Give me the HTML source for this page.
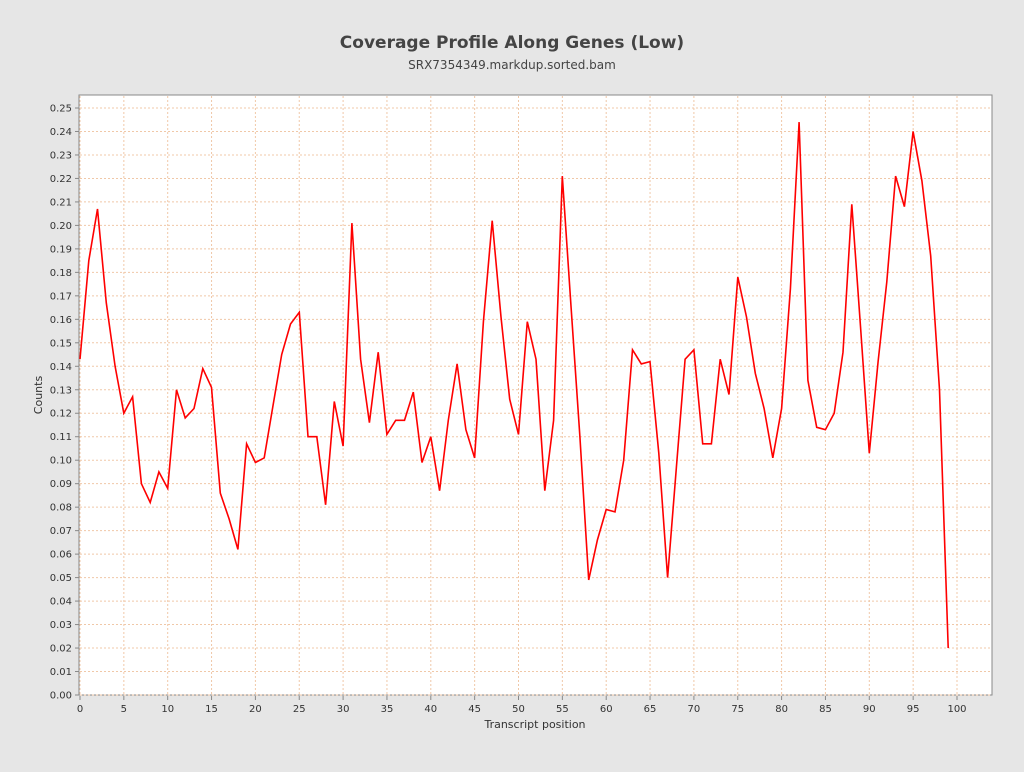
<!DOCTYPE html>
<html><head><meta charset="utf-8"><style>
body{margin:0;background:#e6e6e6;font-family:"DejaVu Sans","Liberation Sans",sans-serif;}
</style></head><body>
<svg width="1024" height="768" xmlns="http://www.w3.org/2000/svg">
<rect width="1024" height="768" fill="#e6e6e6"/>
<text x="512" y="48" text-anchor="middle" font-size="17" font-weight="bold" fill="#444">Coverage Profile Along Genes (Low)</text>
<text x="512" y="69" text-anchor="middle" font-size="12" fill="#444">SRX7354349.markdup.sorted.bam</text>
<rect x="79" y="95" width="913" height="600" fill="#fff" stroke="#888"/>
<g id="grid"></g><g id="axes"></g>
<path id="line" fill="none" stroke="#ff0000" stroke-width="1.6"/>
<text x="535" y="728" text-anchor="middle" font-size="11" fill="#333">Transcript position</text>
<text transform="translate(42,395) rotate(-90)" text-anchor="middle" font-size="11" fill="#333">Counts</text>
</svg>
<script>
const counts=[0.143,0.185,0.207,0.167,0.140,0.120,0.127,0.090,0.082,0.095,0.088,0.130,0.118,0.122,0.139,0.131,0.086,0.075,0.062,0.107,0.099,0.101,0.123,0.145,0.158,0.163,0.110,0.110,0.081,0.125,0.106,0.201,0.143,0.116,0.146,0.111,0.117,0.117,0.129,0.099,0.110,0.087,0.117,0.141,0.113,0.101,0.159,0.202,0.161,0.126,0.111,0.159,0.143,0.087,0.117,0.221,0.165,0.110,0.049,0.066,0.079,0.078,0.100,0.147,0.141,0.142,0.103,0.050,0.097,0.143,0.147,0.107,0.107,0.143,0.128,0.178,0.161,0.137,0.122,0.101,0.122,0.173,0.244,0.134,0.114,0.113,0.120,0.146,0.209,0.157,0.103,0.142,0.176,0.221,0.208,0.240,0.219,0.187,0.130,0.020];
const xTicks=[0,5,10,15,20,25,30,35,40,45,50,55,60,65,70,75,80,85,90,95,100];
const yTicks=[0,0.01,0.02,0.03,0.04,0.05,0.06,0.07,0.08,0.09,0.10,0.11,0.12,0.13,0.14,0.15,0.16,0.17,0.18,0.19,0.20,0.21,0.22,0.23,0.24,0.25];
const X=v=>80+v*8.77, Y=v=>695-v*2348;
const NS="http://www.w3.org/2000/svg";
const grid=document.getElementById('grid'), axes=document.getElementById('axes');
function mk(tag,attrs,parent){const e=document.createElementNS(NS,tag);for(const k in attrs)e.setAttribute(k,attrs[k]);parent.appendChild(e);return e;}
xTicks.forEach(t=>{
  const g=mk('line',{x1:X(t),x2:X(t),y1:96,y2:694,stroke:'#f0c8a8','stroke-dasharray':'2,2'},grid);
  
  
  mk('line',{x1:X(t),x2:X(t),y1:696,y2:700,stroke:'#888'},axes);
  const l=mk('text',{x:X(t),y:712,'text-anchor':'middle','font-size':'10',fill:'#333'},axes);
  l.textContent=t;
  
  
});
yTicks.forEach(t=>{
  const g=mk('line',{x1:80,x2:991,y1:Y(t),y2:Y(t),stroke:'#f0c8a8','stroke-dasharray':'2,2'},grid);
  
  
  mk('line',{x1:75,x2:79,y1:Y(t),y2:Y(t),stroke:'#888'},axes);
  const l=mk('text',{x:72,y:Y(t)+3.5,'text-anchor':'end','font-size':'10',fill:'#333'},axes);
  l.textContent=t.toFixed(2);
  
  
});
document.getElementById('line').setAttribute('d',counts.map((v,i)=>(i?'L':'M')+X(i).toFixed(1)+','+Y(v).toFixed(1)).join(''));
</script>
</body></html>
